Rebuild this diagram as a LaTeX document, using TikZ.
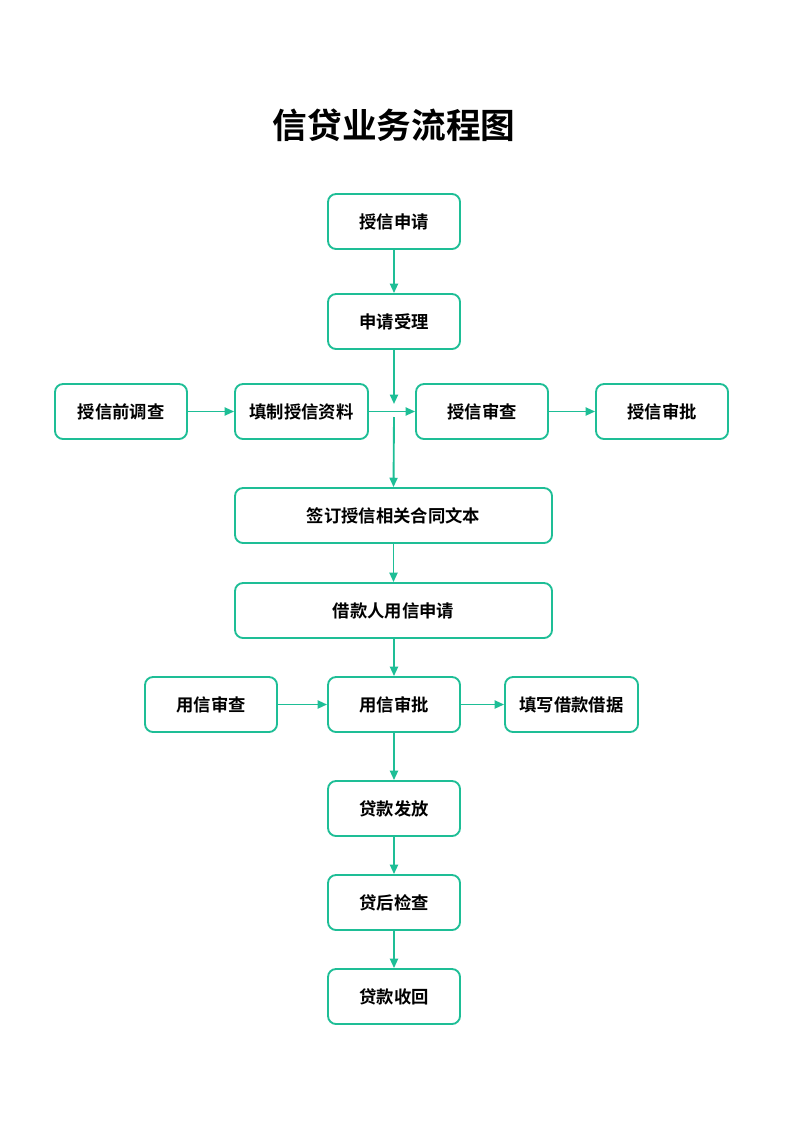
\documentclass[tikz,border=0pt]{standalone}
\usepackage{fontspec}
\setmainfont{Noto Sans CJK SC}[BoldFont={* Bold}]
\usetikzlibrary{arrows.meta}
\definecolor{gr}{RGB}{30,190,150}
\begin{document}
\begin{tikzpicture}[x=0.75pt,y=-0.75pt,
  bx/.style={draw=gr,line width=1.4pt,rounded corners=6pt,fill=white,font=\bfseries\fontsize{13}{15}\selectfont,inner sep=0pt},
  ar/.style={draw=gr,line width=1.4pt,-{Triangle[length=7pt,width=6pt]}},
  ln/.style={draw=gr,line width=1.4pt}]
\useasboundingbox (0,0) rectangle (800,1131);
\node[font=\bfseries\fontsize{26}{30}\selectfont] (title) at (394,125) {信贷业务流程图};
\newcommand\bxn[6]{\node[bx,minimum width=#4*0.75pt,minimum height=#5*0.75pt] (#1) at (#2,#3) {#6};}
\bxn{a}{394}{221.5}{132}{55}{授信申请}
\bxn{b}{394}{321.5}{132}{55}{申请受理}
\bxn{c}{121}{411.5}{132}{55}{授信前调查}
\bxn{d}{301.5}{411.5}{133}{55}{填制授信资料}
\bxn{e}{482}{411.5}{132}{55}{授信审查}
\bxn{f}{662}{411.5}{132}{55}{授信审批}
\bxn{g}{393.5}{515.5}{317}{55}{签订授信相关合同文本}
\bxn{h}{393.5}{610.5}{317}{55}{借款人用信申请}
\bxn{i}{211}{704.5}{132}{55}{用信审查}
\bxn{j}{394}{704.5}{132}{55}{用信审批}
\bxn{k}{571.5}{704.5}{133}{55}{填写借款借据}
\bxn{l}{394}{808.5}{132}{55}{贷款发放}
\bxn{m}{394}{902.5}{132}{55}{贷后检查}
\bxn{n}{394}{996.5}{132}{55}{贷款收回}
\coordinate (p1) at (394,404);
\coordinate (p2) at (394,417);
\draw[ar] (a) -- (b);
\draw[ar] (b.south) -- (p1);
\draw[ar] (c) -- (d);
\draw[ar] (d) -- (e);
\draw[ar] (e) -- (f);
\draw[ar] (p2) -- (g.north);
\draw[ar] (g) -- (h);
\draw[ar] (h.south -| j) -- (j);
\draw[ar] (i) -- (j);
\draw[ar] (j) -- (k);
\draw[ar] (j) -- (l);
\draw[ar] (l) -- (m);
\draw[ar] (m) -- (n);
\end{tikzpicture}
\end{document}
